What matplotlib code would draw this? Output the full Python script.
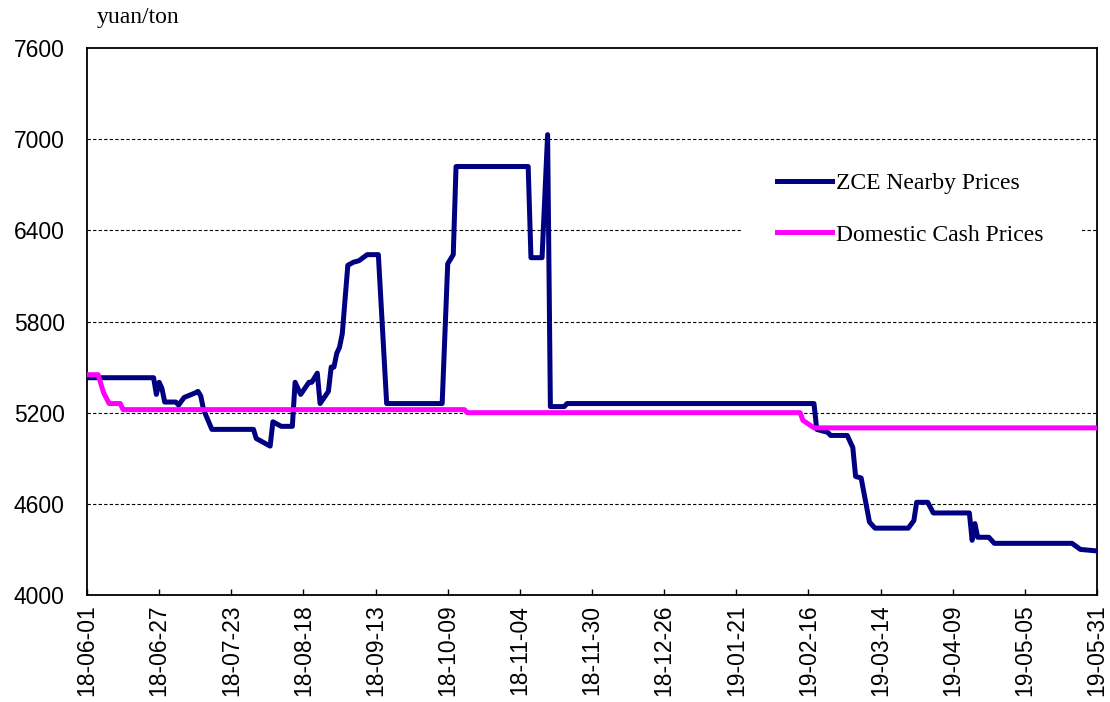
import pandas as pd
import matplotlib
matplotlib.use("Agg")
import matplotlib.pyplot as plt
import matplotlib.dates as mdates
from matplotlib.patches import Rectangle

# ZCE nearby futures prices (yuan/ton)
zce_dates = ["2018-06-01", "2018-06-25", "2018-06-26", "2018-06-27", "2018-06-28",
             "2018-06-29", "2018-07-03", "2018-07-04", "2018-07-06", "2018-07-10",
             "2018-07-11", "2018-07-12", "2018-07-13", "2018-07-16", "2018-07-31",
             "2018-08-01", "2018-08-03", "2018-08-06", "2018-08-07", "2018-08-10",
             "2018-08-14", "2018-08-15", "2018-08-17", "2018-08-20", "2018-08-21",
             "2018-08-23", "2018-08-24", "2018-08-27", "2018-08-28", "2018-08-29",
             "2018-08-30", "2018-08-31", "2018-09-01", "2018-09-03", "2018-09-05",
             "2018-09-07", "2018-09-10", "2018-09-14", "2018-09-17", "2018-10-07",
             "2018-10-09", "2018-10-11", "2018-10-12", "2018-11-07", "2018-11-08",
             "2018-11-12", "2018-11-14", "2018-11-15", "2018-11-20", "2018-11-21",
             "2019-02-18", "2019-02-19", "2019-02-23", "2019-02-24", "2019-03-02",
             "2019-03-04", "2019-03-05", "2019-03-07", "2019-03-10", "2019-03-12",
             "2019-03-24", "2019-03-26", "2019-03-27", "2019-03-31", "2019-04-02",
             "2019-04-15", "2019-04-16", "2019-04-17", "2019-04-18", "2019-04-22",
             "2019-04-24", "2019-05-22", "2019-05-25", "2019-05-31"]
zce_prices = [5430, 5430, 5320, 5400, 5360,
              5270, 5270, 5250, 5300, 5330,
              5340, 5310, 5220, 5090, 5090,
              5030, 5010, 4980, 5140, 5110,
              5110, 5400, 5320, 5400, 5400,
              5460, 5260, 5340, 5500, 5500,
              5590, 5630, 5720, 6170, 6190,
              6200, 6240, 6240, 5260, 5260,
              6180, 6240, 6820, 6820, 6220,
              6220, 7030, 5240, 5240, 5260,
              5260, 5090, 5070, 5050, 5050,
              4970, 4780, 4770, 4480, 4440,
              4440, 4490, 4610, 4610, 4540,
              4540, 4360, 4470, 4380, 4380,
              4340, 4340, 4300, 4290]

# domestic cash prices (yuan/ton)
cash_dates = ["2018-06-01", "2018-06-05", "2018-06-07", "2018-06-09", "2018-06-13",
              "2018-06-14", "2018-10-15", "2018-10-16", "2019-02-13", "2019-02-14",
              "2019-02-18", "2019-05-31"]
cash_prices = [5450, 5450, 5330, 5260, 5260,
               5220, 5220, 5200, 5200, 5150,
               5100, 5100]

START, END = "2018-06-01", "2019-05-31"
YTICKS = [4000, 4600, 5200, 5800, 6400, 7000, 7600]

sans = ["Liberation Sans", "DejaVu Sans"]
serif = ["Liberation Serif", "DejaVu Serif"]

W, H = 1110, 702
fig = plt.figure(figsize=(W / 100, H / 100), dpi=100)
ax = fig.add_axes([87 / W, 1 - 595 / H, 1010 / W, 547 / H])

ax.plot(pd.to_datetime(zce_dates), zce_prices, color="#000080", lw=3.6,
        solid_joinstyle="round", label="ZCE Nearby Prices", zorder=3)
ax.plot(pd.to_datetime(cash_dates), cash_prices, color="#FF00FF", lw=3.6,
        solid_joinstyle="round", label="Domestic Cash Prices", zorder=3)

ax.set_xlim(pd.Timestamp(START), pd.Timestamp(END))
ax.set_ylim(4000, 7600)
ax.set_yticks(YTICKS)
for y in YTICKS[1:-1]:
    ax.axhline(y, color="black", lw=0.8, ls=(0, (3, 2)), zorder=1)

xt = pd.date_range(START, END, freq="26D")
ax.set_xticks(xt)
ax.xaxis.set_major_formatter(mdates.DateFormatter("%y-%m-%d"))
ax.tick_params(axis="x", direction="in", length=4, width=1, pad=7, rotation=90)
ax.tick_params(axis="y", length=0, pad=16)
for lab in ax.get_xticklabels() + ax.get_yticklabels():
    lab.set_fontfamily(sans)
    lab.set_fontsize(16.5)

for s in ax.spines.values():
    s.set_linewidth(1.3)

fig.text(97 / W, 1 - 18 / H, "yuan/ton", family=serif, fontsize=17,
         va="center", ha="left")

# white legend area hides the gridline behind it
ax.add_patch(Rectangle((742 / W, 1 - 262 / H), 338 / W, 110 / H,
                       transform=fig.transFigure, facecolor="white",
                       edgecolor="none", zorder=2))
ax.legend(loc="center left", bbox_to_anchor=(777 / W, 1 - 209 / H),
          bbox_transform=fig.transFigure, frameon=False, borderpad=0,
          borderaxespad=0, handlelength=2.33, handletextpad=0.15,
          labelspacing=1.28, prop={"family": serif, "size": 17})

fig.savefig("out.png", dpi=100)
